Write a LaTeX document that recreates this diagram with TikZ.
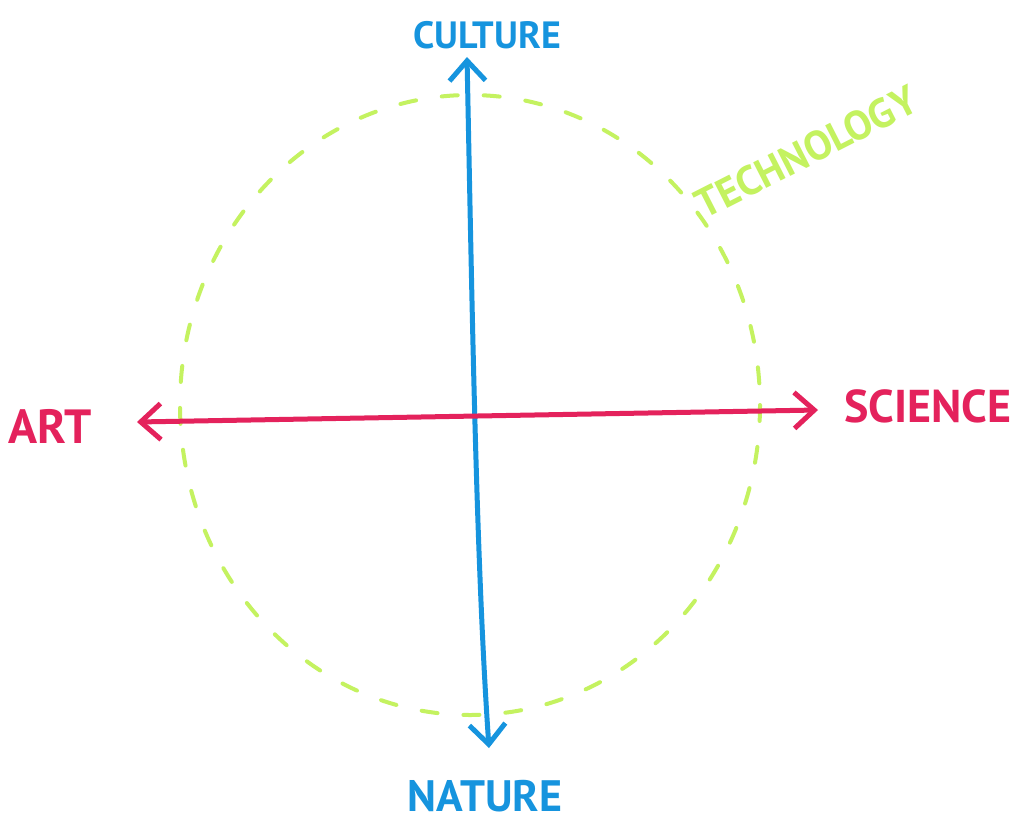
\documentclass[tikz,border=0pt]{standalone}
\usepackage{fontspec}
\setmainfont{PT Sans}
\usetikzlibrary{arrows.meta}
\definecolor{axisblue}{RGB}{22,148,222}
\definecolor{axispink}{RGB}{228,34,92}
\definecolor{techgreen}{RGB}{196,242,96}
\tikzset{
  axisline/.style={line width=5pt, line cap=round, line join=round,
    {Straight Barb[length=20pt,width=36pt,line width=5pt]}-{Straight Barb[length=20pt,width=36pt,line width=5pt]}},
  lbl/.style={font=\bfseries, inner sep=0pt},
  techring/.style={techgreen, line width=4pt, line cap=round, dash pattern=on 16pt off 26pt}
}
\begin{document}
\begin{tikzpicture}[x=1pt,y=-1pt]
\useasboundingbox (0,0) rectangle (1024,832);
\fill[white] (0,0) rectangle (1024,832);
% technology ring
\draw[techring] (470,405) ellipse [x radius=290, y radius=310];
% axes
\coordinate (top) at (467,57);
\coordinate (bot) at (489,748);
\coordinate (left) at (137,422);
\coordinate (right) at (818,410);
\draw[axisline, axisblue] (top) .. controls (472,300) and (476,560) .. (bot);
\draw[axisline, axispink] (left) -- (right);
% labels
\node[lbl, text=axisblue] (culture) at (487,35) {\fontsize{38}{38}\selectfont CULTURE};
\node[lbl, text=axisblue] (nature) at (485,796) {\fontsize{44}{44}\selectfont NATURE};
\node[lbl, text=axispink] (art) at (50,426) {\fontsize{48}{48}\selectfont ART};
\node[lbl, text=axispink] (science) at (928,406) {\fontsize{46}{46}\selectfont SCIENCE};
\node[lbl, text=techgreen, rotate=27] (tech) at (806,152) {\fontsize{41}{41}\selectfont TECHNOLOGY};
\end{tikzpicture}
\end{document}
